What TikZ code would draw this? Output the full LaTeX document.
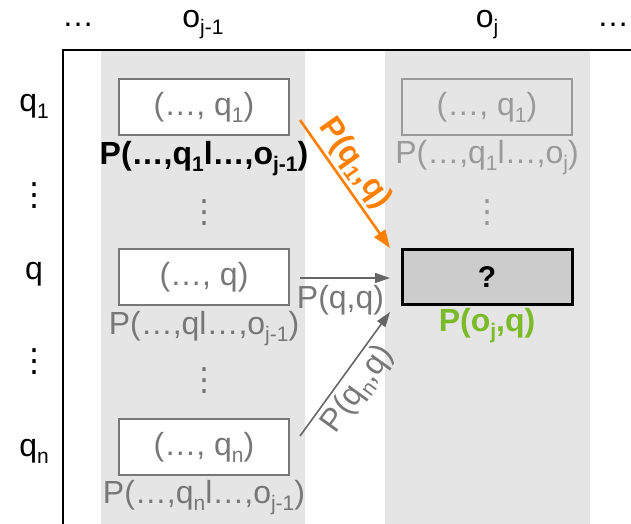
\documentclass[tikz,border=0pt]{standalone}
\usepackage{fontspec}
\setmainfont{Liberation Sans}
\newfontfamily\djv{DejaVu Sans}
\usetikzlibrary{arrows.meta}
\definecolor{colbg}{HTML}{E5E5E5}
\definecolor{boxgray}{HTML}{777777}
\definecolor{ghost}{HTML}{9A9A9A}
\definecolor{qfill}{HTML}{CCCCCC}
\definecolor{myorange}{HTML}{FF7F00}
\definecolor{mygreen}{HTML}{7CBB28}
\definecolor{arrgray}{HTML}{666666}
\newcommand\sbs[1]{\raisebox{-0.22em}{\fontsize{21}{22}\selectfont #1}}
\newcommand\vd{{\djv ⋮}}
\tikzset{
  txt/.style={inner sep=0pt, font=\fontsize{32}{36}\selectfont},
  boldtxt/.style={inner sep=0pt, font=\fontsize{32}{36}\selectfont\bfseries},
  statebox/.style={draw=boxgray, line width=1.5pt, fill=white, minimum width=170pt, minimum height=56pt, inner sep=0pt, text=boxgray, font=\fontsize{32}{36}\selectfont},
  ghostbox/.style={draw=ghost, line width=1.5pt, minimum width=170pt, minimum height=56pt, inner sep=0pt, text=ghost, font=\fontsize{32}{36}\selectfont},
  qbox/.style={draw=black, line width=3pt, fill=qfill, minimum width=170pt, minimum height=55pt, inner sep=0pt, font=\fontsize{30}{34}\selectfont\bfseries},
  grayarrow/.style={draw=arrgray, line width=1.6pt, -{Triangle[length=15pt,width=10pt]}},
  orangearrow/.style={draw=myorange, line width=2.6pt, -{Triangle[length=18pt,width=13pt]}},
}
\begin{document}
\begin{tikzpicture}[x=1pt,y=-1pt]
\useasboundingbox (0,0) rectangle (631,524);
% columns
\fill[colbg] (101,51) rectangle (305,524);
\fill[colbg] (385,51) rectangle (590,524);
% frame
\draw[line width=2pt] (63,524) -- (63,50) -- (631,50);
% header
\node[txt] (hd1) at (78,25) {…};
\node[txt] (hoj1) at (203,25) {o\sbs{j-1}};
\node[txt] (hoj) at (487,25) {o\sbs{j}};
\node[txt] (hd2) at (613,25) {…};
% row labels
\node[txt] (rq1) at (34,106) {q\sbs{1}};
\node[txt] (rv1) at (34,196) {\vd};
\node[txt] (rq) at (34,274) {q};
\node[txt] (rv2) at (34,362) {\vd};
\node[txt] (rqn) at (34,451) {q\sbs{n}};
% left column
\node[statebox] (b1) at (204,107) {(…, q\sbs{1})};
\node[boldtxt] (l1) at (204,159) {P(…,q\sbs{1}l…,o\sbs{j-1})};
\node[txt,text=boxgray] (lv1) at (204,213) {\vd};
\node[statebox] (b2) at (204,277) {(…, q)};
\node[txt,text=boxgray] (l2) at (204,329) {P(…,ql…,o\sbs{j-1})};
\node[txt,text=boxgray] (lv2) at (204,381) {\vd};
\node[statebox] (b3) at (204,447) {(…, q\sbs{n})};
\node[txt,text=boxgray] (l3) at (204,498) {P(…,q\sbs{n}l…,o\sbs{j-1})};
% right column
\node[ghostbox] (r1) at (487,107) {(…, q\sbs{1})};
\node[txt,text=ghost] (rl1) at (487,158) {P(…,q\sbs{1}l…,o\sbs{j})};
\node[txt,text=ghost] (rv) at (487,213) {\vd};
\node[qbox] (qb) at (487,277) {?};
\node[boldtxt,text=mygreen] (gl) at (487,326) {P(o\sbs{j},q)};
% arrows
\coordinate (s1) at (300,120);
\coordinate (e1) at (390,248);
\coordinate (s2) at (300,278);
\coordinate (e2) at (390,278);
\coordinate (s3) at (300,436);
\coordinate (e3) at (390,312);
\draw[orangearrow] (s1) -- (e1) node[pos=0.43, sloped, above=3pt, boldtxt, text=myorange] (al1) {P(q\sbs{1},q)};
\draw[grayarrow] (s2) -- (e2) node[pos=0.45, below=7pt, txt, text=boxgray] (al2) {P(q,q)};
\draw[grayarrow] (s3) -- (e3) node[pos=0.47, sloped, below=4pt, txt, text=boxgray] (al3) {P(q\sbs{n},q)};
\end{tikzpicture}
\end{document}
